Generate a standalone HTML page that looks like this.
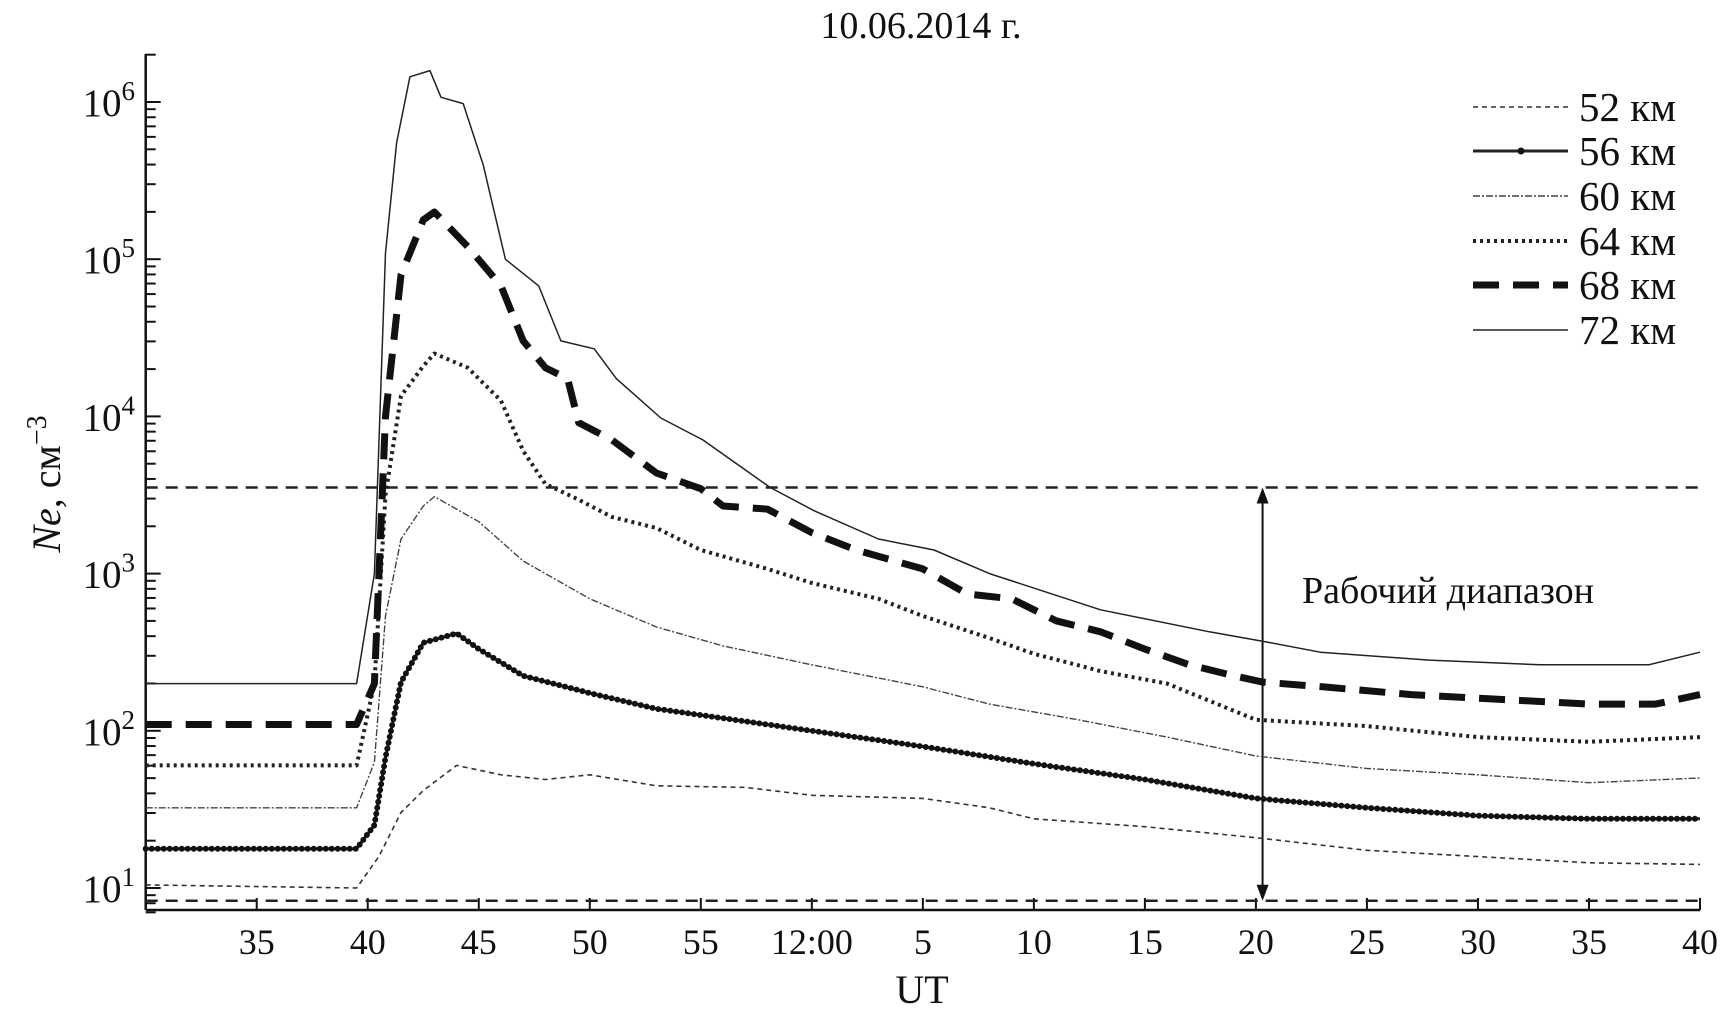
<!DOCTYPE html>
<html><head><meta charset="utf-8"><style>
body{margin:0;background:#fff}
svg{display:block}
text{font-family:"Liberation Serif",serif;fill:#111}
</style></head><body>
<svg id="chart" width="1723" height="1023" viewBox="0 0 1723 1023" xmlns="http://www.w3.org/2000/svg">
<text x="921" y="38" font-size="38" text-anchor="middle">10.06.2014 г.</text>
<g id="axes"></g>
<g id="series"></g>
<g id="legend"></g>
<text x="922" y="1003" font-size="40" text-anchor="middle">UT</text>
<text transform="translate(60,484) rotate(-90)" font-size="40" text-anchor="middle"><tspan font-style="italic">Ne</tspan>, см<tspan dy="-14" font-size="28">−3</tspan></text>
<text x="1302" y="603" font-size="38">Рабочий диапазон</text>
</svg>
<script>
const tMin=[30,39.5,40.3,40.8,41.5,42.5,43,44.5,46,47,48,49,49.5,51,53,55,56,58,60,62,65,67,69,71,73,75,77,79,80.3,83,87,91,95,98,100];
const xTickVals=[35,40,45,50,55,60,65,70,75,80,85,90,95,100];
const xTickLabels=["35","40","45","50","55","12:00","5","10","15","20","25","30","35","40"];
const yDecades=[1,2,3,4,5,6];
const rangeTop=3530, rangeBottom=8.3, rangeTime=80.3;
const t72=[30,39.5,40.3,40.8,41.3,41.9,42.8,43.3,44.3,45.2,46.2,47.7,48.7,50.2,51.2,53.2,55.1,58.1,60.1,63,65.5,68,73,77.9,80.3,82.9,87.8,92.8,97.7,100];
const l72=[2.3,2.3,3.0,5.04,5.74,6.16,6.2,6.03,5.99,5.6,5.0,4.83,4.48,4.43,4.24,3.99,3.85,3.55,3.4,3.22,3.15,3.0,2.77,2.63,2.57,2.5,2.45,2.42,2.42,2.5];
const l68=[2.04,2.04,2.3,4.0,4.9,5.25,5.3,5.08,4.83,4.48,4.31,4.24,3.96,3.85,3.64,3.54,3.43,3.41,3.26,3.15,3.03,2.87,2.84,2.7,2.63,2.52,2.42,2.35,2.31,2.28,2.23,2.2,2.17,2.17,2.23];
const t64=[30,39.5,40.3,40.8,41.5,42.5,43,44.5,46,47,48,49.5,51,53,55,58,60,63,65,68,70,73,76,80,85,90,95,100];
const l64=[1.78,1.78,2.3,3.5,4.13,4.32,4.4,4.31,4.1,3.78,3.57,3.47,3.36,3.29,3.15,3.03,2.94,2.84,2.73,2.59,2.49,2.38,2.3,2.07,2.03,1.96,1.93,1.96];
const t60=[30,39.5,40.3,40.8,41.5,42.5,43,45,47,50,53,56,60,65,68,72,76,80,85,90,95,100];
const l60=[1.51,1.51,1.8,2.73,3.22,3.43,3.49,3.33,3.08,2.84,2.66,2.54,2.42,2.28,2.17,2.07,1.96,1.84,1.76,1.72,1.67,1.7];
const t56=[30,39.5,40.3,40.8,41.5,42.5,44,45,47,50,53,56,60,65,70,75,80,85,90,95,100];
const l56=[1.25,1.25,1.4,1.83,2.31,2.56,2.62,2.52,2.35,2.24,2.14,2.08,2.0,1.9,1.79,1.69,1.57,1.51,1.46,1.44,1.44];
const t52=[30,39.5,40.5,41.5,42.5,44,46,48,50,53,57,60,65,68,70,75,80,85,90,95,100];
const l52=[1.02,1.0,1.2,1.48,1.62,1.78,1.72,1.69,1.72,1.65,1.64,1.59,1.57,1.51,1.44,1.39,1.32,1.24,1.2,1.16,1.15];

const NS="http://www.w3.org/2000/svg";
const X0=145.7,X1=1700,Y0=910,YT=54;
function xs(m){return X0+(m-30)*(X1-X0)/70;}
function ys(lg){return 888-(lg-1)*157.2;}
function mk(tag,attrs,parent){const e=document.createElementNS(NS,tag);for(const k in attrs)e.setAttribute(k,attrs[k]);parent.appendChild(e);return e;}
const axes=document.getElementById('axes'), ser=document.getElementById('series'), leg=document.getElementById('legend');

let el=mk('line',{x1:X0,y1:YT,x2:X0,y2:Y0,stroke:'#111','stroke-width':2.5},axes);


el=mk('line',{x1:X0,y1:Y0,x2:X1,y2:Y0,stroke:'#111','stroke-width':2.5},axes);


xTickVals.forEach((v,i)=>{
  const x=xs(v);
  const t=mk('line',{x1:x,y1:Y0,x2:x,y2:Y0-12,stroke:'#111','stroke-width':2},axes);
  
  
  const lb=mk('text',{x:x,y:954,'font-size':36,'text-anchor':'middle'},axes);
  lb.textContent=xTickLabels[i];
  
  
});
yDecades.forEach(d=>{
  const y=ys(d);
  const t=mk('line',{x1:X0,y1:y,x2:X0+15,y2:y,stroke:'#111','stroke-width':2},axes);
  
  
  const lb=mk('text',{x:135,y:y+14,'font-size':39,'text-anchor':'end'},axes);
  lb.innerHTML='10<tspan dy="-16" font-size="27">'+d+'</tspan>';
  
  
  for(let k=2;k<=9;k++){
    const yy=ys(d+Math.log10(k));
    if(yy<YT)continue;
    const m=mk('line',{x1:X0,y1:yy,x2:X0+10,y2:yy,stroke:'#111','stroke-width':2},axes);
    
    
  }
  if(d===1){for(let k=7;k<=9;k++){const yy=ys(Math.log10(k));const m=mk('line',{x1:X0,y1:yy,x2:X0+10,y2:yy,stroke:'#111','stroke-width':2},axes);
    
    }}
});
[rangeTop,rangeBottom].forEach(v=>{
  const y=ys(Math.log10(v));
  const l=mk('line',{x1:X0,y1:y,x2:X1,y2:y,stroke:'#222','stroke-width':2.5,'stroke-dasharray':'12 8'},axes);
  
  
});
const ax=xs(rangeTime), ya=ys(Math.log10(rangeTop)), yb=ys(Math.log10(rangeBottom));
el=mk('line',{x1:ax,y1:ya+12,x2:ax,y2:yb-12,stroke:'#111','stroke-width':2},axes);


el=mk('path',{d:`M${ax},${ya} l-6,16 l12,0 z M${ax},${yb} l-6,-16 l12,0 z`,fill:'#111'},axes);



const styles={
 s52:{w:1.6,dash:'5 4',c:'#333'},
 s56:{w:3,dash:'',c:'#222'},
 s60:{w:1.4,dash:'7 2 2 2',c:'#444'},
 s64:{w:4,dash:'3 4',c:'#222'},
 s68:{w:7,dash:'26 14',c:'#111'},
 s72:{w:1.5,dash:'',c:'#222'}
};
function pathD(ts,ls){return ts.map((t,i)=>(i?'L':'M')+xs(t).toFixed(1)+','+ys(ls[i]).toFixed(1)).join(' ');}
const list=[['s52',t52,l52,'52 км'],['s56',t56,l56,'56 км'],['s60',t60,l60,'60 км'],['s64',t64,l64,'64 км'],['s68',tMin,l68,'68 км'],['s72',t72,l72,'72 км']];
list.forEach(([k,ts,ls,name],i)=>{
  const s=styles[k];
  const p=mk('path',{d:pathD(ts,ls),fill:'none',stroke:s.c,'stroke-width':s.w,'stroke-dasharray':s.dash,'stroke-linejoin':'round'},ser);
  
  
  if(k==='s56'){
    const q=mk('path',{d:pathD(ts,ls),fill:'none',stroke:'#111','stroke-width':6,'stroke-dasharray':'0 6','stroke-linecap':'round'},ser);
    
    
  }
  const ly=[107,151,196,241,285,330][i];
  const g=mk('g',{},leg);
  
  
  mk('line',{x1:1473,y1:ly,x2:1568,y2:ly,stroke:s.c,'stroke-width':s.w,'stroke-dasharray':s.dash},g);
  if(k==='s56')mk('circle',{cx:1521,cy:ly,r:3.5,fill:'#111'},g);
  const tx=mk('text',{x:1579,y:ly+14,'font-size':41},g);
  tx.textContent=name;
});
</script>
</body></html>
